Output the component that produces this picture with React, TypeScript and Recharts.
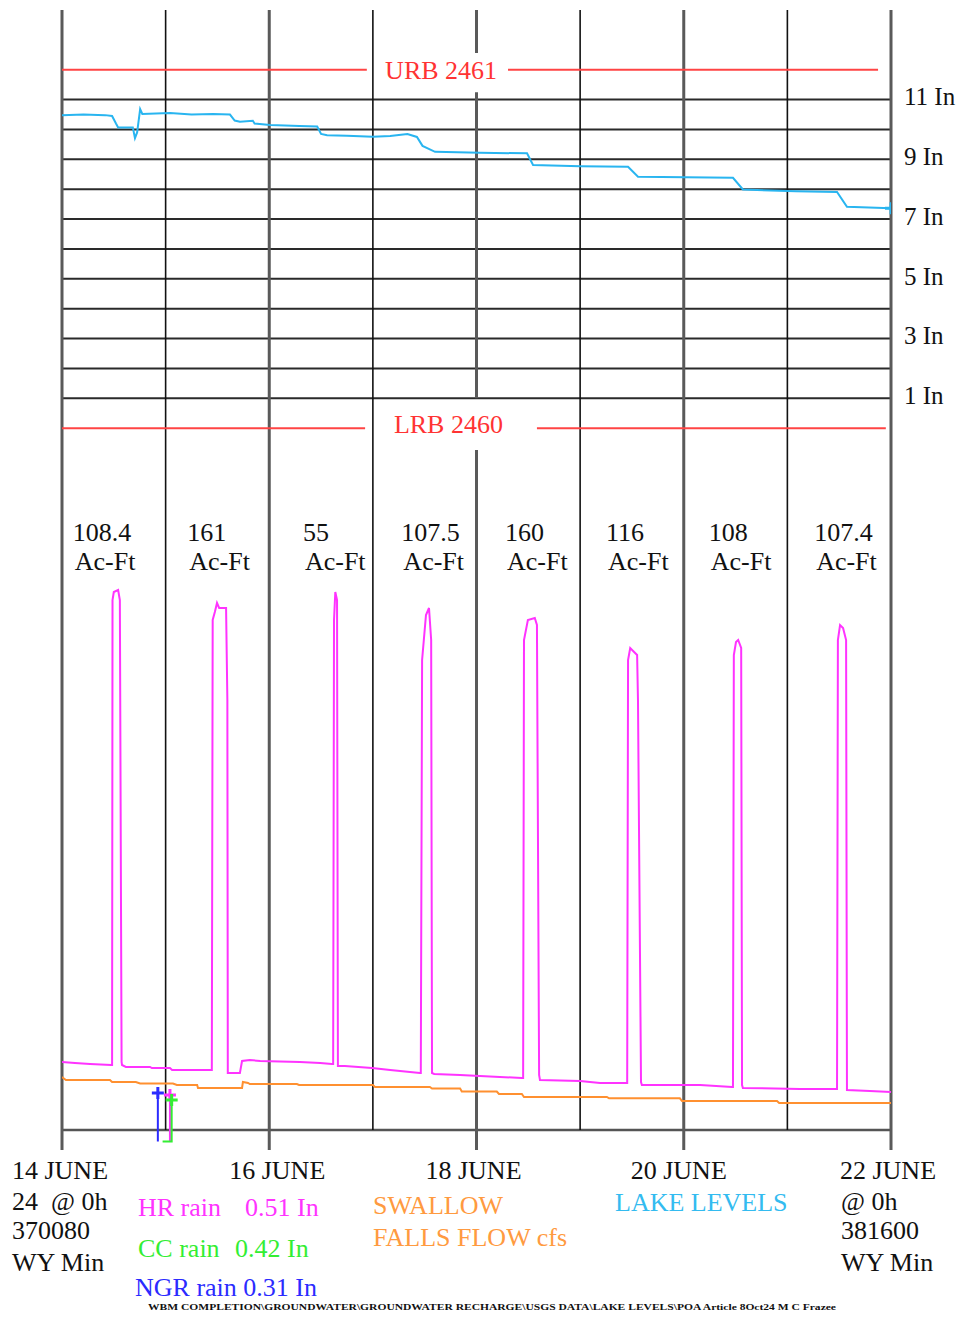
import { ComposedChart, Line, XAxis, YAxis, ReferenceLine, ReferenceDot } from 'recharts'

const SERIF = '"Liberation Serif", "Times New Roman", serif'

// x is hours after 14 June 0h
const DAY_HOURS = [0, 24, 48, 72, 96, 120, 144, 168, 192]
const DATE_TICKS = [0, 48, 96, 144, 192]
const DATE_LABELS = ['14 JUNE', '16 JUNE', '18 JUNE', '20 JUNE', '22 JUNE']
const START_NOTE = ['24\u00a0 @ 0h', '370080', 'WY Min']
const END_NOTE = ['@ 0h', '381600', 'WY Min']
const LEVEL_TICKS = [1, 3, 5, 7, 9, 11]
const LEVEL_LINES = [1, 2, 3, 4, 5, 6, 7, 8, 9, 10, 11]
const ACFT = ['108.4', '161', '55', '107.5', '160', '116', '108', '107.4']
const ACFT_AT = [2.5, 29, 55.8, 78.6, 102.6, 126, 149.8, 174.2]

// lake level, inches above LRB 2460 ft
const LAKE: [number, number][] = [
  [0, 10.48], [5, 10.5], [10, 10.48], [11.6, 10.45], [12.5, 10.2], [13, 10.07], [16.4, 10.07],
  [16.9, 9.71], [17.4, 9.9], [18.1, 10.68], [18.6, 10.52], [25, 10.55], [30, 10.5], [35, 10.52],
  [38.9, 10.5], [40, 10.3], [41.2, 10.26], [44.2, 10.29], [44.6, 10.2], [48.2, 10.15], [55, 10.12],
  [59.1, 10.1], [60, 9.85], [61.4, 9.81], [66, 9.79], [72, 9.76], [76, 9.78], [80, 9.85],
  [82.2, 9.75], [83.5, 9.45], [86.4, 9.25], [96.8, 9.22], [107.7, 9.2], [109.1, 8.81], [120, 8.77],
  [131.1, 8.75], [133.4, 8.42], [155.4, 8.38], [157.7, 7.99], [170, 7.93], [179.5, 7.91],
  [181.8, 7.41], [192, 7.36],
]

// release flow, cfs (magenta)
const RELEASE: [number, number][] = [
  [0, 68], [3, 67], [6.5, 66], [11.4, 65],
  [11.6, 65], [11.7, 530], [12.0, 538], [13.0, 540], [13.4, 530], [13.8, 68], [13.9, 65],
  [14.8, 63], [20.4, 63], [20.8, 62], [25, 62], [25.5, 60], [34.5, 60],
  [34.7, 60], [34.9, 510], [35.4, 518], [35.9, 527], [36.4, 522], [38, 522], [38.3, 430], [38.4, 57],
  [41.2, 57], [41.7, 69], [43.5, 70], [45.9, 69], [55.1, 68], [59.8, 67], [62.5, 66],
  [62.8, 66], [63.0, 510], [63.3, 538], [63.7, 530], [63.9, 64],
  [65.5, 64], [71.8, 62], [76, 60], [82.9, 57],
  [83.1, 57], [83.4, 470], [83.8, 490], [84.3, 515], [85, 522], [85.5, 490], [85.7, 57],
  [86.2, 56], [92.2, 55], [101.4, 53], [106.5, 52],
  [106.8, 52], [107, 490], [107.9, 510], [109.5, 512], [110, 505], [110.5, 55], [110.7, 50],
  [120, 49], [124.6, 47], [130.6, 47],
  [130.9, 47], [131.1, 470], [131.6, 482], [132.5, 478], [133.2, 475], [133.4, 430], [134.1, 48], [134.3, 45],
  [147.8, 45], [155.2, 43],
  [155.4, 43], [155.6, 475], [156.1, 488], [156.6, 490], [157.3, 482], [157.5, 45], [157.7, 42],
  [170.9, 41], [179.3, 41],
  [179.5, 41], [179.7, 490], [180.2, 505], [180.9, 502], [181.6, 490], [181.8, 40],
  [187.1, 39], [192, 38],
]

// swallow falls flow, cfs (orange)
const SWALLOW: [number, number][] = [
  [0, 53], [0.9, 50], [11.1, 50], [11.6, 48], [17.1, 48], [18.1, 46.5], [25.7, 46.5], [26.6, 45],
  [31.3, 45], [31.5, 42], [41.7, 42], [41.9, 48], [43.1, 47], [43.5, 46], [54.4, 46], [54.9, 45],
  [72, 45], [72.5, 43], [85.2, 43], [85.7, 41.5], [92.2, 41.5], [92.6, 38.5], [100.7, 38.5],
  [101.2, 36], [106.5, 36], [107, 33], [126.2, 33], [126.7, 31.7], [143.1, 31.7], [143.6, 29],
  [165.6, 29], [166.1, 27], [192, 27],
]

// rain gauges (cumulative marks)
const HR_RAIN: [number, number][] = [[25.0, 0], [25.0, 0.465]]
const CC_RAIN: [number, number][] = [[23.3, 0], [25.4, 0], [25.4, 0.415]]
const NGR_RAIN: [number, number][] = [[22.2, 0], [22.2, 0.485]]

const toRows = (pts: [number, number][]) => pts.map(([h, v]) => ({ h, v }))

const plusDot = (color: string, count: number) => (p: any) => {
  if (p.index !== count - 1) return <g key={p.index} />
  return (
    <path key={p.index} d={`M${p.cx - 6},${p.cy}h12M${p.cx},${p.cy - 6}v12`} stroke={color} strokeWidth={3} />
  )
}

function DateTick({ x, y, payload }: any) {
  const i = DATE_TICKS.indexOf(payload.value)
  const notes = i === 0 ? START_NOTE : i === DATE_TICKS.length - 1 ? END_NOTE : []
  const dx = [-2, 8, -3, -5, -3][i]
  return (
    <g fontFamily={SERIF} fontSize={26} fill="#111">
      <text x={x + dx} y={y + 29} textAnchor="middle">{DATE_LABELS[i]}</text>
      {notes.map((t, k) => (
        <text key={k} x={x - 50} y={y + [60, 89, 121][k]}>{t}</text>
      ))}
    </g>
  )
}

function AcFtLabel({ viewBox, value }: any) {
  return (
    <text x={viewBox.x} y={viewBox.y} fontFamily={SERIF} fontSize={26} fill="#111">
      {value}
      <tspan x={viewBox.x + 2} dy={29}>Ac-Ft</tspan>
    </text>
  )
}

function Notes() {
  return (
    <g fontFamily={SERIF} fontSize={26}>
      <text x={130} y={1208} fill="#ff33ff">HR rain<tspan x={237}>0.51 In</tspan></text>
      <text x={130} y={1249} fill="#33ee33">CC rain<tspan x={227}>0.42 In</tspan></text>
      <text x={127} y={1288} fill="#2b2bff">NGR rain 0.31 In</text>
      <text x={365} y={1206} fill="#ff9a40">SWALLOW</text>
      <text x={365} y={1238} fill="#ff9a40">FALLS FLOW cfs</text>
      <text x={607} y={1203} fill="#33bbf0">LAKE LEVELS</text>
      <text x={140} y={1302} fontSize={9} fontWeight="bold" fill="#111" textLength={688} lengthAdjust="spacingAndGlyphs">
        WBM COMPLETION\GROUNDWATER\GROUNDWATER RECHARGE\USGS DATA\LAKE LEVELS\POA Article 8Oct24 M C Frazee
      </text>
    </g>
  )
}

export default function App() {
  return (
    <div style={{ width: 948, height: 1304 }}>
      <ComposedChart width={948} height={1304} margin={{ top: 2, right: 0, bottom: 0, left: 54 }}>
        <XAxis
          type="number"
          dataKey="h"
          domain={[0, 192]}
          ticks={DATE_TICKS}
          interval={0}
          height={162}
          axisLine={false}
          tickLine={false}
          tickSize={0}
          tickMargin={0}
          tick={(p: any) => <DateTick {...p} />}
          allowDataOverflow
        />
        <YAxis
          yAxisId="lake"
          orientation="right"
          type="number"
          domain={[-24.17, 14]}
          ticks={LEVEL_TICKS}
          interval={0}
          width={65}
          axisLine={false}
          tickLine={false}
          tickSize={0}
          tickMargin={13}
          tickFormatter={(v) => `${v} In`}
          tick={{ fill: '#111', fontSize: 25, fontFamily: SERIF, dy: -3 }}
          allowDataOverflow
        />
        <YAxis yAxisId="flow" hide type="number" domain={[-20, 1120]} allowDataOverflow />
        <YAxis yAxisId="rain" hide type="number" domain={[-0.085, 11.315]} allowDataOverflow />

        {LEVEL_LINES.map((v) => (
          <ReferenceLine key={'h' + v} yAxisId="lake" y={v} stroke="#2a2a2a" strokeWidth={2} />
        ))}
        <ReferenceLine yAxisId="flow" y={0} stroke="#555" strokeWidth={2.5} />

        {DAY_HOURS.filter((h, i) => i % 2 === 0 && h !== 96).map((h) => (
          <ReferenceLine key={'d' + h} yAxisId="lake" x={h} stroke="#5a5a5a" strokeWidth={3} />
        ))}
        {[[14, 12.56], [11.25, 1], [-0.73, -24.17]].map(([a, b], k) => (
          <ReferenceLine
            key={'m' + k}
            yAxisId="lake"
            segment={[{ x: 96, y: a }, { x: 96, y: b }]}
            stroke="#5a5a5a"
            strokeWidth={3}
          />
        ))}
        {DAY_HOURS.filter((h, i) => i % 2 === 1).map((h) => (
          <ReferenceLine
            key={'o' + h}
            yAxisId="flow"
            segment={[{ x: h, y: 0 }, { x: h, y: 1120 }]}
            stroke="#111"
            strokeWidth={1.6}
          />
        ))}

        <ReferenceLine yAxisId="lake" segment={[{ x: 0, y: 12 }, { x: 70.6, y: 12 }]} stroke="#ff4444" strokeWidth={2} />
        <ReferenceLine yAxisId="lake" segment={[{ x: 103.3, y: 12 }, { x: 189, y: 12 }]} stroke="#ff4444" strokeWidth={2} />
        <ReferenceLine yAxisId="lake" segment={[{ x: 0, y: 0 }, { x: 70.2, y: 0 }]} stroke="#ff4444" strokeWidth={2} />
        <ReferenceLine yAxisId="lake" segment={[{ x: 110, y: 0 }, { x: 190.8, y: 0 }]} stroke="#ff4444" strokeWidth={2} />
        <ReferenceDot
          yAxisId="lake"
          x={87.8}
          y={12}
          r={0}
          fill="none"
          stroke="none"
          label={{ value: 'URB 2461', position: 'center', fill: '#ff3333', fontSize: 26, fontFamily: SERIF }}
        />
        <ReferenceDot
          yAxisId="lake"
          x={89.5}
          y={0.15}
          r={0}
          fill="none"
          stroke="none"
          label={{ value: 'LRB 2460', position: 'center', fill: '#ff3333', fontSize: 26, fontFamily: SERIF }}
        />

        {ACFT.map((v, i) => (
          <ReferenceDot
            key={'a' + i}
            yAxisId="lake"
            x={ACFT_AT[i]}
            y={-3.78}
            r={0}
            fill="none"
            stroke="none"
            label={{ content: (p: any) => <AcFtLabel {...p} value={v} /> }}
          />
        ))}

        <Line
          yAxisId="flow"
          data={toRows(SWALLOW)}
          dataKey="v"
          type="linear"
          stroke="#ff9030"
          strokeWidth={2}
          dot={false}
          isAnimationActive={false}
        />
        <Line
          yAxisId="flow"
          data={toRows(RELEASE)}
          dataKey="v"
          type="linear"
          stroke="#ff33ff"
          strokeWidth={2}
          dot={false}
          isAnimationActive={false}
        />
        <Line
          yAxisId="lake"
          data={toRows(LAKE)}
          dataKey="v"
          type="linear"
          stroke="#29b5f0"
          strokeWidth={2}
          dot={plusDot('#29b5f0', LAKE.length)}
          isAnimationActive={false}
        />
        <Line
          yAxisId="rain"
          data={toRows(HR_RAIN)}
          dataKey="v"
          type="linear"
          stroke="#ff33ff"
          strokeWidth={2}
          dot={plusDot('#ff33ff', HR_RAIN.length)}
          isAnimationActive={false}
        />
        <Line
          yAxisId="rain"
          data={toRows(CC_RAIN)}
          dataKey="v"
          type="linear"
          stroke="#33ee33"
          strokeWidth={2}
          dot={plusDot('#33ee33', CC_RAIN.length)}
          isAnimationActive={false}
        />
        <Line
          yAxisId="rain"
          data={toRows(NGR_RAIN)}
          dataKey="v"
          type="linear"
          stroke="#2b2bff"
          strokeWidth={2}
          dot={plusDot('#2b2bff', NGR_RAIN.length)}
          isAnimationActive={false}
        />

        <Notes />
      </ComposedChart>
    </div>
  )
}
